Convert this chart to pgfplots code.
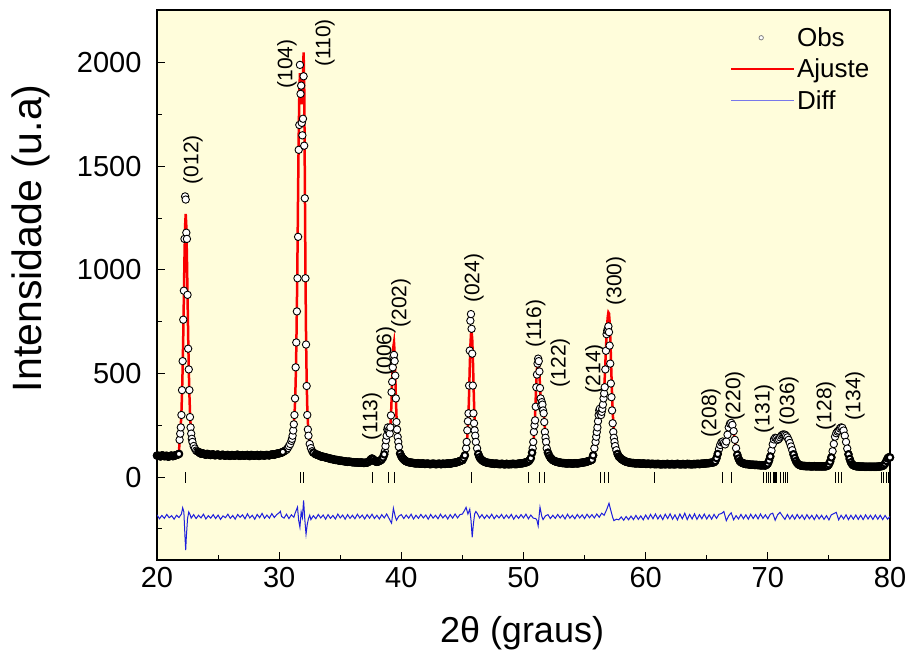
\documentclass[border=0pt]{standalone}
\usepackage{fontspec}
\setmainfont{Liberation Sans}
\usepackage{pgfplots}
\usepackage{pgfplotstable}
\pgfplotsset{compat=1.18}
\definecolor{bgy}{RGB}{255,253,219}
\definecolor{fitred}{RGB}{250,0,0}
\definecolor{diffblue}{RGB}{30,30,220}

\pgfplotstableread{
x obs fit
20.0 104 103
20.1 103 102
20.2 102 102
20.3 100 102
20.4 105 102
20.5 104 102
20.6 101 102
20.7 102 102
20.8 103 102
20.9 99 102
21.0 100 102
21.1 103 102
21.2 104 103
21.3 101 103
21.4 103 104
21.5 105 105
21.6 107 107
21.7 109 110
21.8 112 113
21.85 180 188
21.90 210 215
21.95 240 253
22.00 300 314
22.05 420 404
22.10 560 527
22.15 760 685
22.20 900 872
22.25 1150 1060
22.30 1355 1211
22.35 1340 1270
22.40 1180 1211
22.45 1150 1060
22.50 880 872
22.55 620 685
22.60 520 527
22.65 420 404
22.70 290 314
22.75 240 253
22.80 210 215
22.85 185 188
22.90 170 172
23.00 150 150
23.1 138 139
23.2 128 130
23.3 124 125
23.4 122 121
23.5 117 118
23.6 113 116
23.7 115 114
23.8 114 113
23.9 110 112
24.0 108 111
24.1 112 110
24.2 111 110
24.3 108 109
24.4 107 109
24.5 109 108
24.6 110 108
24.7 106 107
24.8 106 107
24.9 108 107
25.0 109 107
25.1 105 106
25.2 105 106
25.3 107 106
25.4 108 106
25.5 104 106
25.6 104 106
25.7 106 105
25.8 107 105
25.9 103 105
26.0 103 105
26.1 106 105
26.2 106 105
26.3 104 105
26.4 104 105
26.5 107 105
26.6 108 105
26.7 103 105
26.8 103 105
26.9 105 105
27.0 106 105
27.1 104 105
27.2 104 105
27.3 106 105
27.4 107 105
27.5 103 105
27.6 102 105
27.7 107 105
27.8 106 105
27.9 104 105
28.0 104 105
28.1 105 105
28.2 107 105
28.3 103 105
28.4 103 106
28.5 107 106
28.6 106 106
28.7 105 106
28.8 104 106
28.9 106 106
29.0 107 107
29.1 106 107
29.2 105 108
29.3 108 108
29.4 109 109
29.5 110 110
29.6 108 111
29.7 111 112
29.8 113 113
29.9 114 114
30.0 115 116
30.1 117 118
30.2 118 120
30.3 122 123
30.4 124 126
30.5 129 130
30.6 132 134
30.7 140 140
30.8 150 148
30.9 160 160
31.00 175 180
31.05 185 190
31.10 200 205
31.15 225 225
31.20 255 255
31.25 300 295
31.30 380 360
31.35 530 460
31.40 650 610
31.45 800 820
31.50 960 1080
31.55 1160 1380
31.60 1580 1650
31.65 1700 1850
31.70 1990 1950
31.75 1850 1930
31.80 1890 1860
31.85 1710 1800
31.90 1650 1830
31.95 1730 1950
32.00 1935 2050
32.05 1600 1900
32.10 1346 1450
32.15 960 1000
32.20 640 680
32.25 440 470
32.30 300 340
32.35 230 265
32.40 200 220
32.50 160 170
32.60 140 145
32.70 125 130
32.80 118 122
33.00 110 113
33.1 109 110
33.2 106 107
33.3 104 104
33.4 100 102
33.5 100 100
33.6 98 99
33.7 97 97
33.8 95 96
33.9 94 94
34.0 92 93
34.1 91 91
34.2 88 90
34.3 88 88
34.4 86 87
34.5 85 85
34.6 83 84
34.7 83 83
34.8 82 82
34.9 80 81
35.0 79 80
35.1 79 79
35.2 78 78
35.3 77 77
35.4 76 77
35.5 75 76
35.6 74 75
35.7 75 74
35.8 74 74
35.9 73 73
36.0 72 73
36.1 72 72
36.2 71 72
36.3 71 71
36.4 71 71
36.5 70 71
36.6 70 71
36.7 71 70
36.8 70 70
36.9 69 70
37.0 69 70
37.1 70 70
37.2 70 70
37.3 73 72
37.4 78 74
37.5 85 80
37.6 90 84
37.7 86 82
37.8 78 76
37.9 75 74
38.0 74 73
38.1 75 74
38.20 78 76
38.3 81 80
38.40 86 84
38.50 95 92
38.60 110 105
38.65 125 115
38.70 150 130
38.75 178 150
38.80 200 175
38.85 230 200
38.90 240 220
38.95 225 228
39.00 218 225
39.05 210 225
39.10 240 245
39.15 298 290
39.20 410 370
39.25 460 470
39.30 530 570
39.35 580 630
39.40 590 650
39.45 560 600
39.50 490 500
39.55 380 390
39.60 266 300
39.65 230 235
39.70 194 190
39.75 170 160
39.80 146 140
39.90 114 115
40.00 100 100
40.1 92 92
40.20 86 85
40.3 80 81
40.40 76 78
40.5 74 76
40.6 72 74
40.7 71 72
40.8 70 71
40.9 69 70
41.0 68 69
41.1 67 68
41.2 66 68
41.3 67 67
41.4 67 67
41.5 65 66
41.6 65 66
41.7 66 66
41.8 66 66
41.9 64 65
42.0 64 65
42.1 65 65
42.2 65 65
42.3 63 64
42.4 63 64
42.5 64 64
42.6 65 64
42.7 64 64
42.8 63 64
42.9 63 64
43.0 64 64
43.1 65 64
43.2 63 64
43.3 63 64
43.4 65 64
43.5 64 64
43.6 64 65
43.7 65 65
43.8 66 66
43.9 66 66
44.0 65 67
44.1 67 68
44.2 68 69
44.3 69 70
44.4 70 71
44.5 71 72
44.6 73 74
44.7 75 76
44.8 78 78
44.9 80 81
45.00 82 85
45.10 92 95
45.20 105 110
45.30 139 135
45.35 170 160
45.40 226 195
45.45 270 240
45.50 308 310
45.55 442 410
45.60 611 530
45.65 755 630
45.70 787 690
45.75 716 700
45.80 596 670
45.85 442 590
45.90 308 470
45.95 260 360
46.00 226 275
46.05 200 215
46.10 170 175
46.20 139 135
46.30 112 110
46.40 96 95
46.5 88 88
46.60 82 82
46.7 78 79
46.80 74 76
46.9 72 74
47.00 70 72
47.1 69 70
47.2 68 69
47.3 67 68
47.4 66 67
47.5 66 66
47.6 64 66
47.7 65 65
47.8 65 65
47.9 64 64
48.0 63 64
48.1 63 64
48.2 64 64
48.3 64 63
48.4 62 63
48.5 62 63
48.6 64 63
48.7 63 63
48.8 62 63
48.9 63 63
49.0 63 63
49.1 64 63
49.2 64 64
49.3 63 64
49.4 63 64
49.5 64 64
49.6 65 65
49.7 66 66
49.8 66 67
49.9 67 68
50.0 68 69
50.1 70 70
50.2 71 72
50.3 73 74
50.40 76 78
50.50 82 85
50.60 92 95
50.70 118 115
50.75 139 135
50.80 170 160
50.85 218 195
50.90 250 240
50.95 274 300
51.00 340 380
51.05 434 460
51.10 495 520
51.15 548 555
51.20 572 560
51.25 560 545
51.30 510 500
51.35 430 440
51.40 380 385
51.45 346 350
51.50 362 335
51.55 350 335
51.60 322 330
51.65 308 310
51.70 266 275
51.75 218 235
51.80 190 195
51.85 170 165
51.90 139 145
52.00 118 120
52.10 104 105
52.20 94 95
52.3 88 89
52.40 82 84
52.5 79 80
52.60 76 78
52.7 74 76
52.8 73 74
52.9 71 72
53.0 70 71
53.1 69 70
53.2 68 69
53.3 68 68
53.4 67 68
53.5 66 67
53.6 66 67
53.7 67 67
53.8 67 67
53.9 66 67
54.0 65 67
54.1 66 67
54.2 67 67
54.3 67 67
54.4 66 68
54.5 67 68
54.6 68 69
54.7 69 70
54.8 70 71
54.9 71 72
55.0 72 73
55.1 73 74
55.2 75 76
55.3 77 78
55.4 79 80
55.5 81 82
55.60 84 85
55.70 105 98
55.80 139 115
55.90 170 140
55.95 195 160
56.00 218 185
56.05 240 215
56.10 270 245
56.15 300 270
56.20 322 290
56.25 330 300
56.30 308 300
56.35 300 300
56.40 315 305
56.45 330 320
56.50 350 350
56.55 380 380
56.60 404 420
56.65 434 480
56.70 520 550
56.75 610 620
56.80 690 690
56.85 707 740
56.90 716 775
56.95 728 795
57.00 700 790
57.05 635 750
57.10 548 680
57.15 452 590
57.20 386 490
57.25 322 400
57.30 260 320
57.35 218 260
57.40 190 215
57.45 170 180
57.50 150 158
57.60 130 130
57.70 112 112
57.80 100 100
57.9 94 94
58.00 88 88
58.1 84 84
58.20 80 80
58.3 77 77
58.40 74 75
58.5 73 73
58.6 71 72
58.7 70 71
58.8 69 70
58.9 68 69
59.0 68 69
59.1 67 68
59.2 66 68
59.3 67 67
59.4 67 67
59.5 66 66
59.6 65 66
59.7 65 66
59.8 66 66
59.9 65 65
60.0 64 65
60.1 64 65
60.2 65 65
60.3 64 64
60.4 63 64
60.5 64 64
60.6 64 64
60.7 63 64
60.8 63 64
60.9 63 63
61.0 64 63
61.1 63 63
61.2 62 63
61.3 62 63
61.4 63 63
61.5 63 63
61.6 62 63
61.7 63 63
61.8 64 63
61.9 62 63
62.0 62 63
62.1 63 63
62.2 63 63
62.3 62 63
62.4 62 63
62.5 63 63
62.6 64 63
62.7 63 63
62.8 62 63
62.9 62 63
63.0 63 63
63.1 63 63
63.2 62 63
63.3 62 63
63.4 64 66
63.5 63 63
63.6 63 63
63.7 62 63
63.8 62 63
63.9 63 63
64.0 63 63
64.1 63 63
64.2 64 64
64.3 64 64
64.4 63 64
64.5 64 64
64.6 65 65
64.7 65 65
64.8 66 66
64.9 66 66
65.0 67 67
65.1 67 67
65.2 68 68
65.3 69 69
65.4 70 70
65.5 71 71
65.60 72 72
65.70 78 80
65.80 92 95
65.90 112 115
66.00 135 138
66.10 155 158
66.20 168 172
66.30 172 178
66.40 165 170
66.50 158 160
66.60 172 170
66.70 205 200
66.80 240 235
66.90 258 255
67.00 262 260
67.10 252 250
67.20 222 220
67.30 180 175
67.40 140 135
67.50 108 105
67.60 90 88
67.70 78 78
67.80 72 72
67.9 69 69
68.0 66 66
68.1 65 65
68.2 63 64
68.3 63 63
68.4 62 62
68.5 61 61
68.6 60 61
68.7 60 60
68.8 60 60
68.9 59 59
69.0 59 59
69.1 59 59
69.2 58 58
69.3 58 58
69.4 57 58
69.5 57 57
69.6 57 57
69.7 57 57
69.8 56 57
69.90 60 60
70.00 66 66
70.10 80 80
70.20 100 100
70.30 128 130
70.40 158 160
70.50 182 185
70.60 190 196
70.70 188 190
70.80 180 180
70.90 184 182
71.00 192 192
71.10 200 200
71.20 205 205
71.30 206 206
71.40 205 205
71.50 200 200
71.60 192 192
71.70 180 180
71.80 165 165
71.90 148 148
72.00 130 130
72.10 110 110
72.20 92 92
72.30 78 78
72.40 68 68
72.50 62 62
72.60 58 58
72.7 56 56
72.8 55 55
72.9 54 54
73.0 54 54
73.1 53 53
73.2 53 53
73.3 53 53
73.4 53 53
73.5 52 52
73.6 52 52
73.7 52 52
73.8 53 52
73.9 52 52
74.0 52 52
74.1 52 52
74.2 52 52
74.3 52 52
74.4 52 52
74.5 52 52
74.6 52 52
74.7 52 52
74.80 53 53
74.90 55 55
75.00 62 62
75.10 75 75
75.20 95 95
75.30 125 125
75.40 160 160
75.50 195 195
75.60 212 215
75.70 220 220
75.80 225 225
75.90 235 235
76.00 240 240
76.10 238 238
76.20 225 225
76.30 200 200
76.40 170 170
76.50 138 138
76.60 110 110
76.70 88 88
76.80 72 72
76.90 62 62
77.00 57 57
77.1 55 55
77.2 53 53
77.3 52 52
77.4 52 52
77.5 51 51
77.6 51 51
77.7 51 51
77.8 51 51
77.9 50 50
78.0 50 50
78.1 50 50
78.2 50 50
78.3 50 50
78.4 50 50
78.5 50 50
78.6 50 50
78.7 50 50
78.8 50 50
78.9 50 50
79.0 51 51
79.1 51 51
79.2 52 52
79.3 53 53
79.40 54 54
79.50 58 58
79.60 66 66
79.70 78 78
79.80 90 90
79.90 96 96
80.00 95 95
}\obsdata

\pgfplotstableread{
x d
20.0 -182
20.2 -201
20.4 -185
20.6 -199
20.8 -180
21.0 -196
21.2 -186
21.4 -203
21.6 -184
21.8 -195
22.0 -178
22.1 -148
22.2 -168
22.3 -300
22.35 -352
22.4 -290
22.5 -200
22.6 -168
22.7 -180
22.8 -198
23.0 -181
23.2 -200
23.4 -184
23.6 -197
23.8 -179
24.0 -202
24.2 -186
24.4 -198
24.6 -181
24.8 -200
25.0 -183
25.2 -204
25.4 -187
25.6 -196
25.8 -179
26.0 -199
26.2 -185
26.4 -203
26.6 -180
26.8 -194
27.0 -182
27.2 -201
27.4 -177
27.6 -197
27.8 -184
28.0 -203
28.2 -180
28.4 -196
28.6 -175
28.8 -199
29.0 -183
29.2 -198
29.4 -176
29.6 -195
29.8 -181
30.0 -172
30.1 -165
30.2 -190
30.4 -198
30.6 -179
30.8 -200
31.0 -182
31.2 -194
31.3 -175
31.4 -160
31.5 -145
31.6 -210
31.7 -242
31.8 -168
31.9 -195
32.0 -112
32.1 -205
32.2 -276
32.3 -228
32.4 -200
32.5 -184
32.6 -205
32.8 -186
33.0 -201
33.2 -180
33.4 -197
33.6 -183
33.8 -203
34.0 -181
34.2 -199
34.4 -185
34.6 -202
34.8 -178
35.0 -197
35.2 -183
35.4 -203
35.6 -181
35.8 -199
36.0 -184
36.2 -201
36.4 -179
36.6 -197
36.8 -183
37.0 -202
37.2 -181
37.4 -198
37.6 -179
37.8 -200
38.0 -184
38.2 -202
38.4 -181
38.6 -197
38.8 -178
39.0 -200
39.1 -212
39.2 -222
39.35 -150
39.5 -190
39.6 -208
39.8 -188
40.0 -181
40.2 -200
40.4 -183
40.6 -198
40.8 -179
41.0 -202
41.2 -184
41.4 -199
41.6 -180
41.8 -197
42.0 -183
42.2 -203
42.4 -180
42.6 -198
42.8 -184
43.0 -201
43.2 -179
43.4 -197
43.6 -183
43.8 -202
44.0 -181
44.2 -198
44.4 -178
44.6 -197
44.8 -181
45.0 -178
45.1 -168
45.2 -158
45.3 -146
45.45 -178
45.6 -155
45.7 -205
45.8 -290
45.9 -225
46.0 -178
46.1 -166
46.25 -178
46.4 -197
46.6 -181
46.8 -200
47.0 -183
47.2 -198
47.4 -179
47.6 -201
47.8 -184
48.0 -197
48.2 -180
48.4 -200
48.6 -183
48.8 -198
49.0 -180
49.2 -203
49.4 -184
49.6 -199
49.8 -181
50.0 -197
50.2 -179
50.4 -201
50.6 -183
50.8 -198
51.0 -200
51.1 -208
51.2 -235
51.35 -145
51.5 -190
51.6 -205
51.8 -187
52.0 -181
52.2 -200
52.4 -184
52.6 -199
52.8 -180
53.0 -197
53.2 -183
53.4 -202
53.6 -179
53.8 -198
54.0 -184
54.2 -201
54.4 -180
54.6 -197
54.8 -182
55.0 -200
55.2 -179
55.4 -196
55.6 -181
55.8 -197
56.0 -178
56.2 -194
56.4 -174
56.6 -184
56.8 -158
56.9 -142
57.0 -126
57.1 -150
57.2 -172
57.3 -194
57.4 -210
57.6 -203
57.8 -206
58.0 -192
58.2 -208
58.4 -190
58.6 -206
58.8 -188
59.0 -205
59.2 -185
59.4 -204
59.6 -187
59.8 -206
60.0 -183
60.2 -203
60.4 -180
60.6 -201
60.8 -178
61.0 -202
61.2 -183
61.4 -205
61.6 -179
61.8 -200
62.0 -177
62.2 -203
62.4 -182
62.6 -206
62.8 -178
63.0 -201
63.2 -174
63.4 -205
63.6 -180
63.8 -202
64.0 -177
64.2 -204
64.4 -181
64.6 -201
64.8 -178
65.0 -202
65.2 -182
65.4 -203
65.6 -180
65.8 -199
66.0 -179
66.2 -176
66.4 -166
66.6 -210
66.8 -186
67.0 -172
67.2 -206
67.4 -186
67.6 -202
67.8 -180
68.0 -201
68.2 -182
68.4 -203
68.6 -179
68.8 -200
69.0 -181
69.2 -202
69.4 -178
69.6 -199
69.8 -182
70.0 -201
70.2 -179
70.4 -174
70.6 -208
70.8 -182
71.0 -170
71.2 -188
71.4 -204
71.6 -180
71.8 -202
72.0 -183
72.2 -203
72.4 -180
72.6 -200
72.8 -183
73.0 -204
73.2 -181
73.4 -201
73.6 -184
73.8 -205
74.0 -182
74.2 -202
74.4 -184
74.6 -204
74.8 -186
75.0 -206
75.2 -182
75.4 -176
75.6 -170
75.8 -206
76.0 -184
76.2 -202
76.4 -182
76.6 -205
76.8 -184
77.0 -203
77.2 -183
77.4 -204
77.6 -184
77.8 -205
78.0 -182
78.2 -202
78.4 -184
78.6 -204
78.8 -183
79.0 -203
79.2 -184
79.4 -205
79.6 -185
79.8 -203
80.0 -190
}\diffdata

\pgfplotstableread{
x y
22.37 -3
31.77 -3
32.02 -3
37.65 -3
38.93 -3
39.40 -3
45.76 -3
50.40 -3
51.30 -3
51.70 -3
56.34 -3
56.65 -3
56.92 -3
60.70 -3
66.28 -3
67.05 -3
69.65 -3
69.85 -3
70.05 -3
70.25 -3
70.45 -3
70.55 -3
70.62 -3
70.70 -3
71.05 -3
71.25 -3
71.45 -3
71.65 -3
75.50 -3
75.75 -3
76.00 -3
79.30 -3
79.50 -3
79.70 -3
79.88 -3
}\braggdata

\begin{document}
\begin{tikzpicture}
\path[use as bounding box] (0,0) rectangle (908bp,652bp);
\begin{axis}[
  at={(157bp,92bp)}, anchor=south west,
  width=733bp, height=550bp, scale only axis,
  xmin=20, xmax=80, ymin=-400, ymax=2255,
  xtick={20,30,...,80}, minor xtick={25,35,...,75},
  ytick={0,500,...,2000}, minor ytick={-250,250,750,1250,1750},
  tick align=inside, xtick pos=bottom, ytick pos=left,
  major tick length=8bp, minor tick length=5bp,
  every tick/.style={black, line width=1bp},
  axis line style={line width=1.3bp},
  axis background/.style={fill=bgy},
  ticklabel style={font=\fontsize{29bp}{34bp}\selectfont},
  yticklabel style={xshift=-12bp},
  xticklabel style={yshift=-4bp},
  /pgf/number format/assume math mode=true,
  /pgf/number format/1000 sep={},
  xlabel={2θ (graus)}, ylabel={Intensidade (u.a)},
  xlabel style={font=\fontsize{36bp}{43bp}\selectfont, inner sep=0pt, at={(axis description cs:0.498,-0.1327)}, anchor=center},
  ylabel style={font=\fontsize{41bp}{49bp}\selectfont, inner sep=0pt, at={(axis description cs:-0.172,0.585)}, anchor=center},
  legend style={at={(rel axis cs:0.7817,0.972)}, anchor=north west, draw=none, fill=none,
    font=\fontsize{26bp}{31bp}\selectfont, inner sep=0bp, row sep=7bp},
  legend cell align=left,
]
\addplot[fitred, line width=2.5bp, forget plot] table[x=x,y=fit]{\obsdata};
\addplot[only marks, mark=*, mark size=3.7bp, mark options={fill=white, draw=black, line width=0.9bp}, forget plot] table[x=x,y=obs]{\obsdata};
\addplot[only marks, mark=*, mark size=3.2bp, mark options={fill=white, draw=black, line width=2bp}, restrict y to domain=0:122, forget plot] table[x=x,y=obs]{\obsdata};
\addplot[diffblue, line width=1bp, forget plot] table[x=x,y=d]{\diffdata};
\addplot[only marks, mark=|, mark size=5.5bp, black, line width=1bp, forget plot] table[x=x,y=y]{\braggdata};

\addlegendimage{legend image code/.code={\draw[gray, fill=white, line width=0.8bp] (1.05cm,0cm) circle (2.2bp);}}
\addlegendentry{Obs}
\addlegendimage{legend image code/.code={\draw[fitred, line width=2.5bp] (0cm,0cm) -- (2.2cm,0cm);}}
\addlegendentry{Ajuste}
\addlegendimage{legend image code/.code={\draw[diffblue!60, line width=1bp] (0cm,0cm) -- (2.2cm,0cm);}}
\addlegendentry{Diff}

\begin{scope}[every node/.style={rotate=90, anchor=west, inner sep=0pt, font=\fontsize{21bp}{25bp}\selectfont}]
\node at (axis cs:22.95,1413) {(012)};
\node at (axis cs:30.64,1875) {(104)};
\node at (axis cs:33.75,1981) {(110)};
\node at (axis cs:37.60,178) {(113)};
\node at (axis cs:38.75,490) {(006)};
\node at (axis cs:39.97,721) {(202)};
\node at (axis cs:45.95,841) {(024)};
\node at (axis cs:51.00,625) {(116)};
\node at (axis cs:53.00,433) {(122)};
\node at (axis cs:55.85,404) {(214)};
\node at (axis cs:57.57,827) {(300)};
\node at (axis cs:65.35,192) {(208)};
\node at (axis cs:67.30,274) {(220)};
\node at (axis cs:69.70,211) {(131)};
\node at (axis cs:71.73,250) {(036)};
\node at (axis cs:74.76,226) {(128)};
\node at (axis cs:77.13,274) {(134)};
\end{scope}
\end{axis}
\end{tikzpicture}
\end{document}
